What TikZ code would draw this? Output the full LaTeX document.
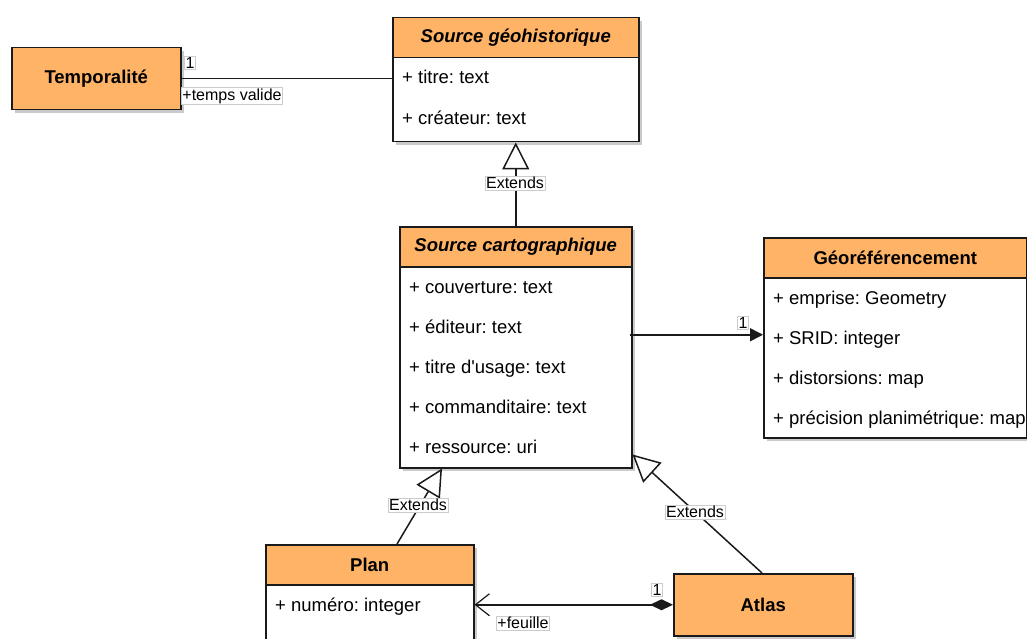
\documentclass[tikz,border=0pt]{standalone}
\usepackage{fontspec}
\setmainfont{Liberation Sans}[Ligatures=TeXOff]
\usetikzlibrary{arrows.meta,calc,shadows}
\definecolor{umlorange}{HTML}{FFB366}
\definecolor{umlline}{HTML}{1A1A1A}
\frenchspacing
\begin{document}
\begin{tikzpicture}[x=1pt,y=-1pt,
  body/.style={draw=umlline, line width=1.5pt, fill=white, inner sep=0pt, anchor=north west,
    drop shadow={shadow xshift=3pt, shadow yshift=-3pt, fill=black!35, opacity=0.6}},
  head/.style={draw=umlline, line width=1.5pt, fill=umlorange, inner sep=0pt, anchor=north west,
    font=\fontsize{18.5}{20}\selectfont\bfseries},
  solo/.style={head, drop shadow={shadow xshift=3pt, shadow yshift=-3pt, fill=black!35, opacity=0.6}},
  attr/.style={anchor=base west, inner sep=0pt, font=\fontsize{18.5}{20}\selectfont},
  lbl/.style={fill=white, draw=black!20, line width=0.4pt, inner sep=1pt, font=\fontsize{16}{18}\selectfont},
  conn/.style={draw=umlline, line width=1.5pt},
  ext/.style={conn, -{Triangle[open, length=27pt, width=27pt, fill=white]}},
]
\useasboundingbox (0,0) rectangle (1027,639);
\clip (0,0) rectangle (1027,639);

% Temporalite
\node[solo, minimum width=169pt, minimum height=62pt] (temp) at (11,47) {Temporalité};

% Source geohistorique
\node[body, minimum width=246pt, minimum height=124pt] (sg) at (392,17) {};
\node[head, minimum width=246pt, minimum height=40pt] (sgh) at (392,17) {\itshape Source géohistorique};
\node[attr] (sg1) at (402,84) {+ titre: text};
\node[attr] (sg2) at (402,125) {+ créateur: text};

% Source cartographique
\node[body, minimum width=232pt, minimum height=241pt] (sc) at (399,226) {};
\node[head, minimum width=232pt, minimum height=40pt] (sch) at (399,226) {\itshape Source cartographique};
\node[attr] (sc1) at (409,293) {+ couverture: text};
\node[attr] (sc2) at (409,333) {+ éditeur: text};
\node[attr] (sc3) at (409,373) {+ titre d'usage: text};
\node[attr] (sc4) at (409,413) {+ commanditaire: text};
\node[attr] (sc5) at (409,453) {+ ressource: uri};

% Georeferencement
\node[body, minimum width=263pt, minimum height=200pt] (geo) at (763,237) {};
\node[head, minimum width=263pt, minimum height=40pt] (geoh) at (763,237) {Géoréférencement};
\node[attr] (geo1) at (773,304) {+ emprise: Geometry};
\node[attr] (geo2) at (773,344) {+ SRID: integer};
\node[attr] (geo3) at (773,384) {+ distorsions: map};
\node[attr] (geo4) at (773,424) {+ précision planimétrique: map};

% Plan
\node[body, minimum width=208pt, minimum height=140pt] (plan) at (265,544) {};
\node[head, minimum width=208pt, minimum height=40pt] (planh) at (265,544) {Plan};
\node[attr] (plan1) at (275,611) {+ numéro: integer};

% Atlas
\node[solo, minimum width=179pt, minimum height=62pt] (atlas) at (673,573) {Atlas};

% Temporalite -- Source geohistorique
\draw[conn] (temp.east) -- (temp.east -| sg.west);
\node[lbl] (l1) at (190,63) {1};
\node[lbl] (l2) at (232,96) {+temps valide};

% Extends: Source cartographique -> Source geohistorique
\draw[ext] (sc.north) -- (sg.south);
\node[lbl] (e1) at (515,183) {Extends};

% Source cartographique -> Georeferencement
\coordinate (gstart) at ($(sc.east)+(-3,-12.5)$);
\draw[conn, -{Triangle[length=13pt, width=13pt]}] (gstart) -- (gstart -| geo.west);
\node[lbl] (l3) at (743,323) {1};

% Extends: Plan -> Source cartographique
\draw[ext] ([xshift=132pt]plan.north west) -- ([xshift=43pt]sc.south west);
\node[lbl] (e2) at (418,505) {Extends};

% Extends: Atlas -> Source cartographique
\draw[ext] ([xshift=89pt]atlas.north west) -- ([yshift=14pt]sc.south east);
\node[lbl] (e3) at (695,512) {Extends};

% Atlas -> Plan (composition)
\draw[conn, {Diamond[length=23pt, width=11pt]}-{Straight Barb[length=14pt, width=22pt, line width=1.2pt]}] (atlas.west) -- (atlas.west -| plan.east);
\node[lbl] (l4) at (657,590) {1};
\node[lbl] (l5) at (523,623) {+feuille};
\end{tikzpicture}
\end{document}
